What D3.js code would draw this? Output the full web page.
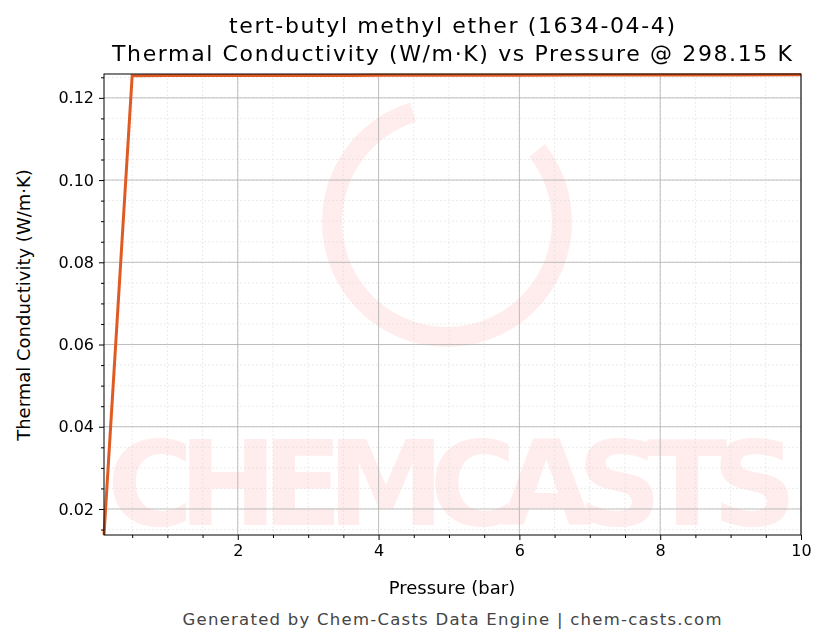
<!DOCTYPE html><html><head><meta charset="utf-8"><script src="https://cdn.jsdelivr.net/npm/d3@7"></script>
<style>body{margin:0;background:#fff}text{font-family:"DejaVu Sans",sans-serif}</style></head><body><svg id="c" width="830" height="644"></svg>
<script>
const pressure=[0.1,0.5,1,2,3,4,5,6,7,8,9,10];
const conductivity=[0.0137,0.1254,0.12541,0.12543,0.12545,0.12547,0.12549,0.12551,0.12553,0.12555,0.12557,0.12559];
const xTicks=[2,4,6,8,10];
const yTicks=[0.02,0.04,0.06,0.08,0.10,0.12];
const svg=d3.select("#c");
const L=104,R=801,T=74,B=535;
const x=d3.scaleLinear().domain([0.1,10]).range([L,R]);
const y=d3.scaleLinear().domain([0.01367,0.1258]).range([B,T]);
const wm=svg.append("g").attr("opacity",0.1);
wm.append("path").attr("d",d3.arc().innerRadius(105).outerRadius(125).startAngle(0.9).endAngle(2*Math.PI-0.3)()).attr("transform","translate(447,222)").attr("fill","#f44");
wm.append("text").attr("x",452).attr("y",525).attr("text-anchor","middle").attr("font-size",118).attr("font-weight","bold").attr("fill","#f44").attr("textLength",690).text("CHEMCASTS");
const minX=d3.range(0.5,10.01,0.5), minY=d3.range(0.015,0.1258,0.005);
svg.append("g").selectAll("line").data(minX).join("line").attr("x1",d=>x(d)).attr("x2",d=>x(d)).attr("y1",T).attr("y2",B).attr("stroke","#ddd").attr("stroke-width",0.6).attr("stroke-dasharray","2,2");
svg.append("g").selectAll("line").data(minY).join("line").attr("y1",d=>y(d)).attr("y2",d=>y(d)).attr("x1",L).attr("x2",R).attr("stroke","#ddd").attr("stroke-width",0.6).attr("stroke-dasharray","2,2");
svg.append("g").selectAll("line").data(xTicks).join("line").attr("x1",d=>x(d)).attr("x2",d=>x(d)).attr("y1",T).attr("y2",B).attr("stroke","#b0b0b0").attr("stroke-width",0.8);
svg.append("g").selectAll("line").data(yTicks).join("line").attr("y1",d=>y(d)).attr("y2",d=>y(d)).attr("x1",L).attr("x2",R).attr("stroke","#b0b0b0").attr("stroke-width",0.8);
svg.append("path").datum(pressure.map((p,i)=>[p,conductivity[i]])).attr("d",d3.line().x(d=>x(d[0])).y(d=>y(d[1]))).attr("fill","none").attr("stroke","#e05a24").attr("stroke-width",3);
svg.append("g").attr("class","maj").attr("transform",`translate(0,${B})`).call(d3.axisBottom(x).tickValues(xTicks).tickFormat(d3.format("d")).tickSize(5).tickPadding(5));
svg.append("g").attr("transform",`translate(0,${B})`).call(d3.axisBottom(x).tickValues(minX.filter(d=>xTicks.indexOf(d)<0)).tickFormat("").tickSize(3)).selectAll("text").remove();
svg.append("g").attr("class","maj").attr("transform",`translate(${L},0)`).call(d3.axisLeft(y).tickValues(yTicks).tickFormat(d3.format(".2f")).tickSize(5).tickPadding(5));
svg.append("g").attr("transform",`translate(${L},0)`).call(d3.axisLeft(y).tickValues(minY.filter(d=>Math.abs(((d*100)%2))>0.01&&Math.abs(((d*100)%2)-2)>0.01)).tickFormat("").tickSize(3)).selectAll("text").remove();
svg.selectAll(".maj .tick text").style("font-size","16px").style("font-family","DejaVu Sans").attr("fill","#000");
svg.selectAll(".tick line").attr("stroke","#000");
svg.selectAll(".domain").remove();
svg.append("rect").attr("x",L).attr("y",T).attr("width",R-L).attr("height",B-T).attr("fill","none").attr("stroke","#000").attr("stroke-width",1);
svg.append("text").attr("x",452).attr("y",33).attr("text-anchor","middle").attr("font-size",22).attr("textLength",446).text("tert-butyl methyl ether (1634-04-4)");
svg.append("text").attr("x",452).attr("y",61).attr("text-anchor","middle").attr("font-size",22).attr("textLength",680).text("Thermal Conductivity (W/m·K) vs Pressure @ 298.15 K");
svg.append("text").attr("x",452).attr("y",594).attr("text-anchor","middle").attr("font-size",18).text("Pressure (bar)");
svg.append("text").attr("transform","translate(30,305) rotate(-90)").attr("text-anchor","middle").attr("font-size",18).text("Thermal Conductivity (W/m·K)");
svg.append("text").attr("x",452).attr("y",625).attr("text-anchor","middle").attr("font-size",16.5).attr("fill","#444").attr("textLength",539).text("Generated by Chem-Casts Data Engine | chem-casts.com");
</script></body></html>
